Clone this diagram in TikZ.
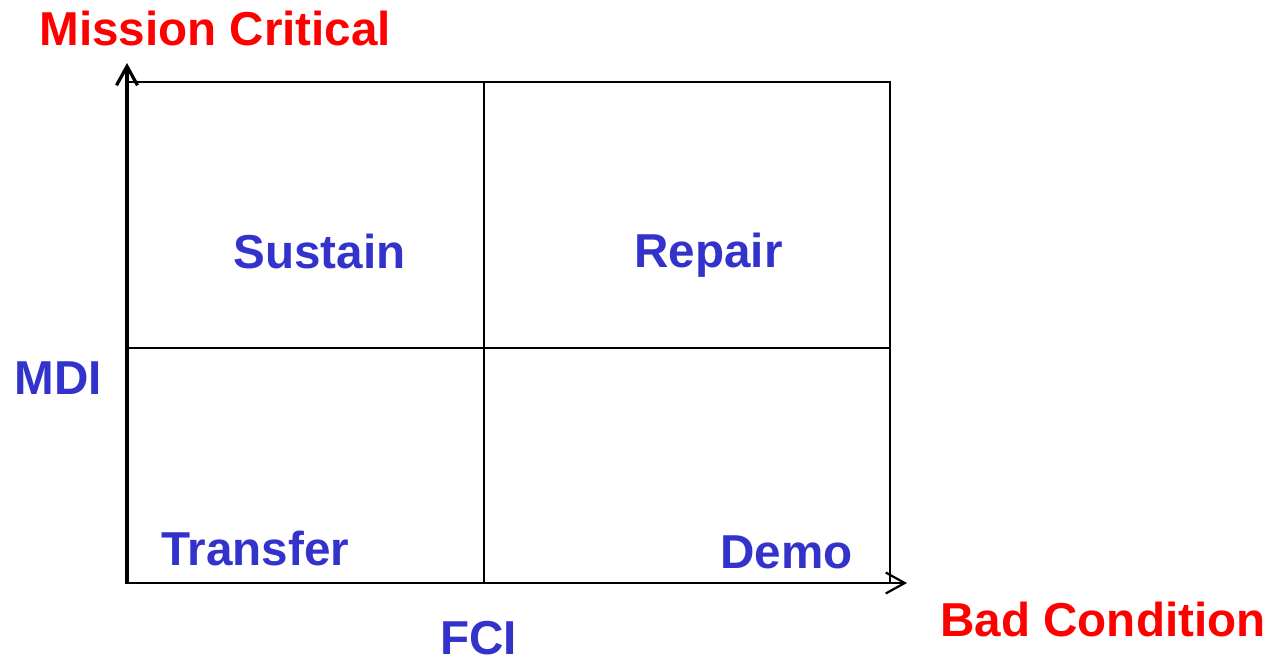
\documentclass[tikz,border=0pt]{standalone}
\usepackage{fontspec}
\setmainfont{Liberation Sans}
\usetikzlibrary{arrows.meta}
\usepackage{xcolor}
\definecolor{critred}{RGB}{255,0,0}
\definecolor{quadblue}{RGB}{51,51,204}

\begin{document}
\begin{tikzpicture}[x=0.5pt,y=-0.5pt,
    axis/.style={line width=1.1pt, -{Straight Barb[length=9.5pt,width=10.5pt]}},
    gridline/.style={line width=1.1pt},
    axislabel/.style={text=critred, font=\fontsize{23.8}{28}\selectfont\bfseries, inner sep=0pt, anchor=base west},
    quadlabel/.style={text=quadblue, font=\fontsize{23.8}{28}\selectfont\bfseries, inner sep=0pt, anchor=base west}]
        \useasboundingbox (0,0) rectangle (1266,659);

        % Corners of the matrix
        \coordinate (origin) at (127,583);
        \coordinate (ytip) at (127,63);
        \coordinate (xtip) at (907,583);
        \coordinate (topleft) at (127,82);
        \coordinate (topmid) at (484,82);
        \coordinate (topright) at (890,82);
        \coordinate (midleft) at (125,348);
        \coordinate (midright) at (890,348);
        \coordinate (botmid) at (484,583);
        \coordinate (botright) at (890,583);
        \coordinate (botleft) at (125,583);

        % Axes
        \draw[axis, line width=1.6pt] (origin) -- (ytip);
        \draw[axis] (botleft) -- (xtip);

        % Quadrant lines
        \draw[gridline] (topleft) -- (topright) -- (botright);
        \draw[gridline] (topmid) -- (botmid);
        \draw[gridline] (midleft) -- (midright);

        % Axis labels
        \node[axislabel] (critical) at (39,45) {Mission Critical};
        \node[axislabel] (condition) at (940,636) {Bad Condition};
        \node[quadlabel] (mdi) at (14,394) {MDI};
        \node[quadlabel] (fci) at (440,654) {FCI};

        % Quadrants
        \node[quadlabel] (sustain) at (233,268) {Sustain};
        \node[quadlabel] (repair) at (634,267) {Repair};
        \node[quadlabel] (transfer) at (161,565) {Transfer};
        \node[quadlabel] (demo) at (720,568) {Demo};

\end{tikzpicture}
\end{document}
